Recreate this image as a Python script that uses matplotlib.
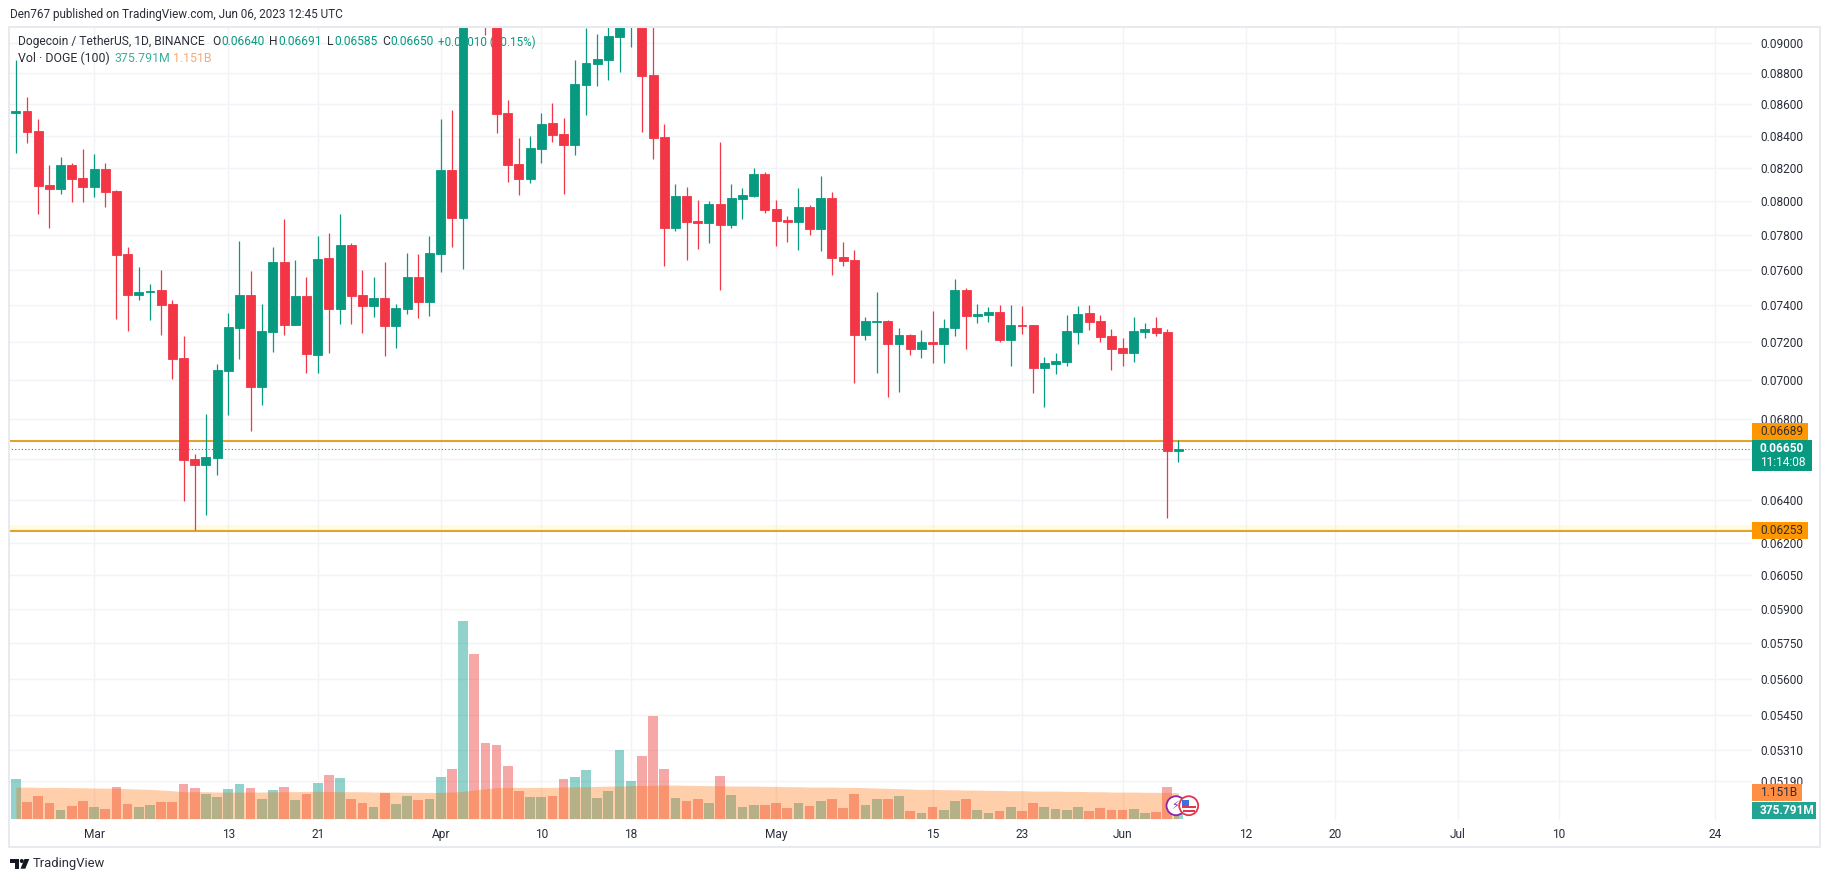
import matplotlib
matplotlib.use("Agg")
import matplotlib.pyplot as plt
import numpy as np
import pandas as pd
from matplotlib.patches import Circle, Polygon, Rectangle
from matplotlib.ticker import FixedLocator, NullLocator

plt.rcParams['font.family'] = ['Roboto', 'DejaVu Sans']

W, H = 1830, 882
GREEN = '#089981'
RED = '#F23645'
VOL_GREEN = '#26A69A'
VOL_RED = '#EF5350'
ORANGE = '#FF9800'
LEVEL = '#E2A32E'
GRID = '#F2F3F6'
INK = '#2A2E39'

# prices in 1e-5 USDT, daily candles from 22 Feb 2023
opens = [8546, 8556, 8429, 8096, 8074, 8218, 8139, 8086, 8194, 8060, 7690, 7460, 7476, 7486, 7408, 7115, 6598, 6570,
         6605, 7048, 7278, 7458, 6964, 7256, 7644, 7294, 7452, 7133, 7667, 7382, 7741, 7458, 7399, 7441, 7289, 7382,
         7559, 7421, 7690, 8187, 7899, 9450, 9250, 9200, 8544, 8224, 8133, 8319, 8480, 8411, 8344, 8726, 8862, 8888,
         9042, 9150, 9250, 8789, 8392, 7840, 8030, 7881, 7870, 7982, 7858, 8012, 8030, 8163, 7952, 7887, 7876, 7964,
         7835, 8018, 7672, 7655, 7238, 7309, 7314, 7190, 7238, 7163, 7200, 7190, 7276, 7486, 7342, 7347, 7364, 7211,
         7292, 7292, 7062, 7083, 7094, 7254, 7358, 7314, 7233, 7168, 7142, 7254, 7276, 7254, 6640]
highs = [8888, 8644, 8503, 8218, 8265, 8232, 8317, 8286, 8228, 8066, 7730, 7615, 7519, 7598, 7430, 7233, 6623, 6824,
         7083, 7358, 7765, 7593, 7408, 7730, 7893, 7655, 7559, 7794, 7811, 7923, 7753, 7598, 7559, 7644, 7408, 7695,
         7690, 7794, 8505, 8563, 9900, 10500, 9650, 9450, 8627, 8385, 8398, 8544, 8605, 8512, 8888, 9103, 9063, 9200,
         9350, 9400, 9350, 9150, 8474, 8102, 8084, 8006, 8000, 8360, 8102, 8078, 8200, 8175, 8006, 7911, 8078, 7976,
         8151, 8054, 7759, 7713, 7334, 7474, 7320, 7276, 7244, 7265, 7369, 7325, 7547, 7497, 7408, 7391, 7402, 7402,
         7397, 7292, 7120, 7142, 7347, 7397, 7402, 7347, 7271, 7222, 7336, 7303, 7336, 7271, 6691]
lows = [8294, 8356, 7925, 7842, 8044, 7996, 7996, 8026, 7966, 7325, 7260, 7430, 7320, 7238, 7004, 6396, 6260, 6329,
        6521, 6820, 7111, 6739, 6871, 7149, 7240, 7294, 7037, 7037, 7143, 7300, 7300, 7249, 7338, 7127, 7170, 7354,
        7333, 7343, 7589, 7730, 7604, 9150, 9058, 8419, 8116, 8038, 8110, 8232, 8360, 8044, 8282, 8533, 8718, 8757,
        8809, 8975, 8423, 8255, 7621, 7823, 7655, 7718, 7753, 7486, 7840, 7893, 8024, 7929, 7736, 7759, 7713, 7799,
        7707, 7570, 7621, 6983, 7211, 7036, 6911, 6937, 7131, 7115, 7088, 7088, 7233, 7163, 7303, 7309, 7200, 7073,
        7244, 6931, 6859, 7030, 7073, 7190, 7265, 7200, 7051, 7073, 7094, 7222, 7233, 6314, 6585]
closes = [8556, 8425, 8092, 8072, 8218, 8133, 8086, 8194, 8056, 7686, 7460, 7474, 7482, 7404, 7111, 6595, 6570, 6608,
          7051, 7282, 7458, 6964, 7260, 7644, 7294, 7452, 7138, 7661, 7382, 7741, 7454, 7399, 7441, 7289, 7386, 7559,
          7421, 7695, 8187, 7899, 9450, 9250, 9200, 8537, 8220, 8133, 8323, 8474, 8406, 8344, 8731, 8869, 8895, 9049,
          9150, 9250, 8783, 8385, 7840, 8030, 7876, 7872, 7982, 7858, 8018, 8036, 8163, 7946, 7881, 7876, 7964, 7835,
          8018, 7667, 7650, 7238, 7314, 7314, 7190, 7238, 7163, 7200, 7190, 7276, 7486, 7342, 7353, 7364, 7211, 7292,
          7287, 7062, 7088, 7099, 7260, 7353, 7309, 7227, 7163, 7142, 7260, 7271, 7249, 6638, 6650]

# volume in millions DOGE
volumes = [1731, 733, 1012, 689, 381, 557, 777, 499, 425, 1393, 645, 513, 601, 733, 733, 1525, 1349, 1085, 953, 1305,
           1525, 1349, 865, 1261, 1393, 821, 1085, 1569, 1921, 1789, 865, 689, 513, 1129, 645, 997, 821, 865, 1833,
           2185, 8697, 7245, 3329, 3241, 2317, 1217, 953, 953, 997, 1745, 1833, 2141, 909, 1217, 3021, 1657, 2757,
           4517, 2185, 909, 777, 865, 689, 1877, 1041, 513, 601, 601, 689, 469, 689, 557, 777, 865, 469, 1085, 601,
           865, 865, 997, 337, 249, 513, 381, 777, 865, 381, 249, 337, 513, 337, 689, 513, 425, 381, 513, 337, 469,
           381, 381, 425, 249, 293, 1393, 376]
volume_ma = [1393, 1393, 1379, 1379, 1379, 1364, 1364, 1349, 1349, 1335, 1320, 1305, 1291, 1261, 1232, 1188, 1188,
             1188, 1173, 1173, 1173, 1173, 1173, 1188, 1188, 1188, 1203, 1203, 1203, 1188, 1188, 1188, 1173, 1173,
             1173, 1159, 1159, 1159, 1159, 1173, 1203, 1261, 1320, 1364, 1379, 1379, 1379, 1379, 1379, 1393, 1408,
             1408, 1423, 1437, 1437, 1452, 1467, 1467, 1481, 1481, 1467, 1467, 1452, 1452, 1437, 1437, 1437, 1423,
             1423, 1408, 1408, 1393, 1393, 1393, 1379, 1379, 1364, 1349, 1335, 1320, 1305, 1291, 1291, 1276, 1276,
             1261, 1261, 1247, 1247, 1232, 1232, 1217, 1217, 1217, 1203, 1203, 1188, 1188, 1173, 1173, 1173, 1159,
             1159, 1159, 1151]

price_ticks = [0.09, 0.088, 0.086, 0.084, 0.082, 0.08, 0.078, 0.076, 0.074, 0.072, 0.07, 0.068, 0.066, 0.064, 0.062,
               0.0605, 0.059, 0.0575, 0.056, 0.0545, 0.0531, 0.0519]
hidden_price_ticks = [0.066]  # sits under the last price badge
levels = [0.06689, 0.06253]
last_price = 0.0665

date_ticks = ['2023-03-01', '2023-03-13', '2023-03-21', '2023-04-01', '2023-04-10', '2023-04-18', '2023-05-01',
              '2023-05-15', '2023-05-23', '2023-06-01', '2023-06-12', '2023-06-20', '2023-07-01', '2023-07-10',
              '2023-07-24']
date_labels = ['Mar', '13', '21', 'Apr', '10', '18', 'May', '15', '23', 'Jun', '12', '20', 'Jul', '10', '24']
first_day = pd.Timestamp('2023-02-22')


def px_rect(left, top, right, bottom):
    return [left / W, 1 - bottom / H, (right - left) / W, (bottom - top) / H]


fig = plt.figure(figsize=(W / 100, H / 100), dpi=100)

o = np.array(opens) / 1e5
c = np.array(closes) / 1e5
hi = np.array(highs) / 1e5
lo = np.array(lows) / 1e5
days = np.arange(len(o))
colors = [GREEN if a >= b else RED for a, b in zip(c, o)]
vol_colors = [VOL_GREEN if a >= b else VOL_RED for a, b in zip(c, o)]
tick_days = [(pd.Timestamp(d) - first_day).days for d in date_ticks]

# price pane
ax = fig.add_axes(px_rect(8, 27, 1752, 820), zorder=1)
ax.set_yscale('log')
ax.set_xlim(-0.7, 155.3)
ax.set_ylim(0.0504, 0.0911)
for s in ax.spines.values():
    s.set_visible(False)
ax.set_axisbelow(True)
ax.grid(True, color=GRID, lw=1.0)
ax.xaxis.set_major_locator(FixedLocator(tick_days))
ax.set_xticklabels(date_labels)
ax.yaxis.tick_right()
ax.yaxis.set_major_locator(FixedLocator(price_ticks))
ax.yaxis.set_minor_locator(NullLocator())
ax.set_yticklabels(['' if t in hidden_price_ticks else f'{t:.5f}' for t in price_ticks])
ax.tick_params(axis='both', length=0, labelsize=8.6, labelcolor=INK)
ax.tick_params(axis='x', pad=6)
ax.tick_params(axis='y', pad=5.8)

# legend goes under the candles
ax.text(10 / 1744, 0.9813, 'Dogecoin / TetherUS, 1D, BINANCE', transform=ax.transAxes, fontsize=8.65,
        color=INK, va='center', zorder=1.2)
for x, label, value in [(212, 'O', '0.06640'), (269, 'H', '0.06691'), (327, 'L', '0.06585'), (382, 'C', '0.06650')]:
    t = ax.text((x - 8) / 1744, 0.9813, label, transform=ax.transAxes, fontsize=8.65, color=INK, va='center', zorder=1.2)
    ax.annotate(value, xy=(1, 0.5), xycoords=t, xytext=(0.5, 0), textcoords='offset points', fontsize=8.65,
                color=GREEN, va='center', zorder=1.2)
ax.text((438.5 - 8) / 1744, 0.9813, '+0.00010 (+0.15%)', transform=ax.transAxes, fontsize=8.4, color=GREEN,
        va='center', zorder=1.2)
ax.text(10 / 1744, 0.9599, 'Vol · DOGE (100)', transform=ax.transAxes, fontsize=8.9, color=INK, va='center', zorder=1.2)
ax.text((114.8 - 8) / 1744, 0.9599, '375.791M', transform=ax.transAxes, fontsize=8.9, color='#3FAE9F', va='center',
        zorder=1.2)
ax.text((172.8 - 8) / 1744, 0.9599, '1.151B', transform=ax.transAxes, fontsize=8.9, color='#FBAA6E', va='center',
        zorder=1.2)

# levels and last price
ax.axhspan(levels[1], levels[1] * 1.0045, color='#FFF59D', alpha=0.3, lw=0, zorder=1.4)
ax.hlines(levels, -0.7, 155.3, color=LEVEL, lw=1.5, zorder=1.5)
ax.hlines(last_price, -0.7, 155.3, color=GREEN, lw=0.8, linestyles=(0, (1, 2)), zorder=1.5)

# candles
ax.vlines(days, lo, hi, color=colors, lw=0.9, zorder=2)
ax.bar(days, np.abs(c - o), bottom=np.minimum(o, c), width=0.8, color=colors, edgecolor=colors, lw=0.6, zorder=3)

# volume pane shares the x axis with price, linear and pinned to the bottom
vax = fig.add_axes(px_rect(8, 27, 1752, 820), zorder=2, sharex=ax)
vax.patch.set_visible(False)
vax.set_ylim(-57, 34835)
vax.axis('off')
vax.bar(days, volumes, width=0.87, color=vol_colors, alpha=0.5, lw=0)
vax.fill_between(days, 0, volume_ma, color='#FF6D00', alpha=0.33, lw=0)

# everything placed on the screen rather than in the data
ov = fig.add_axes([0, 0, 1, 1], zorder=3)
ov.set_xlim(0, W)
ov.set_ylim(H, 0)
ov.axis('off')
ov.add_patch(Rectangle((8.5, 27), 1811, 820, fill=False, ec='#E8EAEF', lw=1.5))


def badge(x0, y0, x1, y1, color, lines, text_color):
    ov.add_patch(Rectangle((x0, y0), x1 - x0, y1 - y0, fc=color, ec='none'))
    for ty, txt, weight in lines:
        ov.text(1760, ty, txt, fontsize=8.6, color=text_color, va='center', ha='left', fontweight=weight)


badge(1752, 422.5, 1808, 440, ORANGE, [(431.5, '0.06689', 'normal')], INK)
badge(1752, 440, 1812, 471, GREEN, [(448.7, '0.06650', 'bold'), (462, '11:14:08', 'normal')], 'white')
badge(1752, 522, 1808, 539, ORANGE, [(530.5, '0.06253', 'normal')], INK)
badge(1752, 784, 1802, 801, '#FF8F45', [(792.5, '1.151B', 'normal')], INK)
badge(1752, 802, 1816, 819, '#22A394', [(810.5, '375.791M', 'bold')], 'white')

# header and footer
ov.text(9.7, 14.7, 'Den767 published on TradingView.com, Jun 06, 2023 12:45 UTC', fontsize=8.45, color=INK, va='center')
ov.text(33, 864, 'TradingView', fontsize=9.4, color=INK, va='center')
ov.add_patch(Polygon([(10, 859), (19, 859), (19, 868.7), (14.5, 868.7), (14.5, 863), (10, 863)], fc='#131722', ec='none'))
ov.add_patch(Circle((21.8, 861), 2, fc='#131722', ec='none'))
ov.add_patch(Polygon([(24.5, 859), (29.3, 859), (25.3, 868.7), (20.5, 868.7)], fc='#131722', ec='none'))

# event icons next to the last bar
ov.add_patch(Circle((1176, 805.7), 9.5, fc='white', ec='#8E24AA', lw=1.3))
ov.text(1175, 805.7, '⚡', fontsize=8, color='#8E24AA', ha='center', va='center', family='DejaVu Sans')
ov.add_patch(Circle((1188.7, 805.7), 9.5, fc='white', ec='#E5354B', lw=1.3))
ov.add_patch(Rectangle((1181.5, 806), 14.5, 2.2, fc='#E5354B', ec='none'))
ov.add_patch(Rectangle((1182.5, 810), 12.5, 2.2, fc='#E5354B', ec='none'))
ov.add_patch(Rectangle((1182, 799.5), 7, 6.5, fc='#3F6FD8', ec='none'))

fig.savefig('out.png', dpi=100, facecolor='white')
